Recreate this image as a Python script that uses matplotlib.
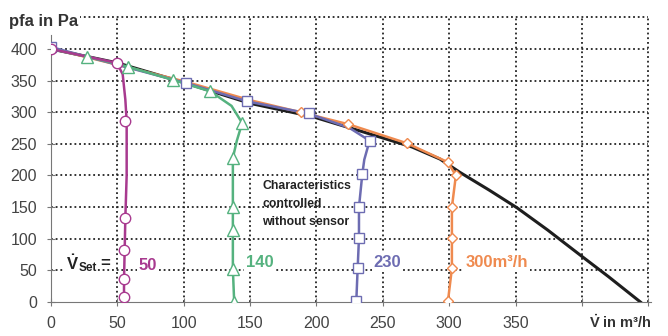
import matplotlib
matplotlib.use("Agg")
import matplotlib.pyplot as plt

# fan characteristic (black)
fan_x = [0, 50, 100, 150, 197, 235, 272, 293, 308, 330, 351, 374, 400, 420, 444]
fan_y = [400, 378, 347, 314, 293, 269, 245, 226, 205, 177, 149, 114, 72, 40, 0]

# controlled curves: line paths and marker points
c50_x = [0, 49.6, 54, 56, 57, 57, 56, 55.5, 55, 55]
c50_y = [400, 378, 360, 320, 286, 200, 133, 82, 36, 8]
c50_mx = [0, 49.6, 55.6, 55.6, 55, 55, 55]
c50_my = [400, 378, 286, 133, 82, 36, 8]

c140_x = [0, 27, 58, 92, 120, 136, 144, 140, 137, 137, 137, 137, 138]
c140_y = [400, 388, 372, 351, 333, 310, 283, 255, 228, 150, 114, 52, 0]
c140_mx = [27, 58, 92, 120, 144, 137, 137, 137, 137, 138]
c140_my = [388, 372, 351, 333, 283, 228, 150, 114, 52, 0]

c230_x = [0, 102, 148, 194, 225, 240, 236, 234.5, 232, 232, 231, 230]
c230_y = [403, 346, 317, 298, 275, 255, 225, 202, 150, 101, 53, 2]
c230_mx = [0, 102, 148, 194, 240, 234.5, 232, 232, 231, 230]
c230_my = [403, 346, 317, 298, 255, 202, 150, 101, 53, 2]

c300_x = [0, 100, 150, 188, 224, 268, 299, 305, 302, 302, 302, 299]
c300_y = [401, 349, 319, 300, 281, 251, 221, 200, 150, 101, 53, 1]
c300_mx = [188, 224, 268, 299, 305, 302, 302, 302, 299]
c300_my = [300, 281, 251, 221, 200, 150, 101, 53, 1]

xticks = [0, 50, 100, 150, 200, 250, 300, 350, 400, 450]
xlabels = ["0", "50", "100", "150", "200", "250", "300", "350", "", ""]
yticks = [0, 50, 100, 150, 200, 250, 300, 350, 400, 450]
ylabels = ["0", "50", "100", "150", "200", "250", "300", "350", "400", ""]

plt.rcParams["font.family"] = ["Liberation Sans", "DejaVu Sans"]
plt.rcParams["mathtext.fontset"] = "custom"
plt.rcParams["mathtext.rm"] = "Liberation Sans:bold"
plt.rcParams["mathtext.bf"] = "Liberation Sans:bold"
plt.rcParams["mathtext.it"] = "Liberation Sans:bold"

fig = plt.figure(figsize=(6.68, 3.36), dpi=100)
ax = fig.add_axes([51 / 668, 34 / 336, (655 - 51) / 668, (302 - 11) / 336])
ax.set_xlim(0, 455)
ax.set_ylim(0, 460)

# dotted grid
dot = (0, (1, 1.6))
for gx in xticks[1:]:
    ax.plot([gx, gx], [0, 450], color="#222222", lw=1.3, ls=dot, zorder=1)
for gy in yticks[1:]:
    ax.plot([0, 450], [gy, gy], color="#222222", lw=1.3, ls=dot, zorder=1)

ax.plot(fan_x, fan_y, color="#1e1e1e", lw=2.2, zorder=3)

series = [
    (c300_x, c300_y, c300_mx, c300_my, "#ef8a4f", "D", 5.5),
    (c230_x, c230_y, c230_mx, c230_my, "#6d6cb2", "s", 7),
    (c140_x, c140_y, c140_mx, c140_my, "#55b27f", "^", 8),
    (c50_x, c50_y, c50_mx, c50_my, "#a83a8f", "o", 7.5),
]
for lx, ly, mx, my, col, mk, ms in series:
    ax.plot(lx, ly, color=col, lw=1.8, zorder=4)
    ax.plot(mx, my, ls="none", marker=mk, ms=ms, mfc="white", mec=col, mew=1.0, zorder=5)

for s in ["top", "right"]:
    ax.spines[s].set_visible(False)
ax.spines["left"].set_color("#777777")
ax.spines["bottom"].set_color("#777777")
ax.spines["left"].set_bounds(0, 422)
ax.spines["bottom"].set_bounds(0, 452)
ax.set_xticks(xticks)
ax.set_xticklabels(xlabels)
ax.set_yticks(yticks)
ax.set_yticklabels(ylabels)
ax.tick_params(axis="both", direction="inout", length=6, color="#777777",
               labelsize=11.5, labelcolor="#444444")
ax.tick_params(axis="x", pad=7)
ax.tick_params(axis="y", pad=7)

wb = dict(facecolor="white", edgecolor="none", pad=1.5)
ax.text(-32, 443, "pfa in Pa", fontsize=12, fontweight="bold", color="#333333",
        va="center", ha="left", clip_on=False, bbox=wb, zorder=6)
ax.text(405, -33, r"$\dot{\mathbf{V}}$ in m³/h", fontsize=10.5, fontweight="bold",
        color="#333333", va="center", ha="left", clip_on=False)

ax.text(159, 155, "Characteristics\ncontrolled\nwithout sensor", fontsize=8.8,
        fontweight="bold", color="#222222", va="center", ha="left",
        linespacing=1.65, zorder=6)

ax.text(11, 62, r"$\dot{\mathbf{V}}$", fontsize=12, color="#222222", va="center",
        ha="left", bbox=wb, zorder=6)
ax.text(20.5, 53, "Set", fontsize=8.5, fontweight="bold", color="#222222",
        va="center", ha="left", bbox=dict(facecolor="white", edgecolor="none", pad=0.5),
        zorder=6)
ax.text(37, 61, "=", fontsize=12, fontweight="bold", color="#222222",
        va="center", ha="left", zorder=6)
ax.text(66, 57, "50", fontsize=12, fontweight="bold", color="#a83a8f",
        va="center", ha="left", bbox=wb, zorder=6)
ax.text(147, 63, "140", fontsize=12, fontweight="bold", color="#55b27f",
        va="center", ha="left", bbox=wb, zorder=6)
ax.text(243, 63, "230", fontsize=12, fontweight="bold", color="#6d6cb2",
        va="center", ha="left", bbox=wb, zorder=6)
ax.text(312, 63, "300m³/h", fontsize=12, fontweight="bold", color="#ef8a4f",
        va="center", ha="left", bbox=wb, zorder=6)

fig.savefig("out.png", dpi=100)
